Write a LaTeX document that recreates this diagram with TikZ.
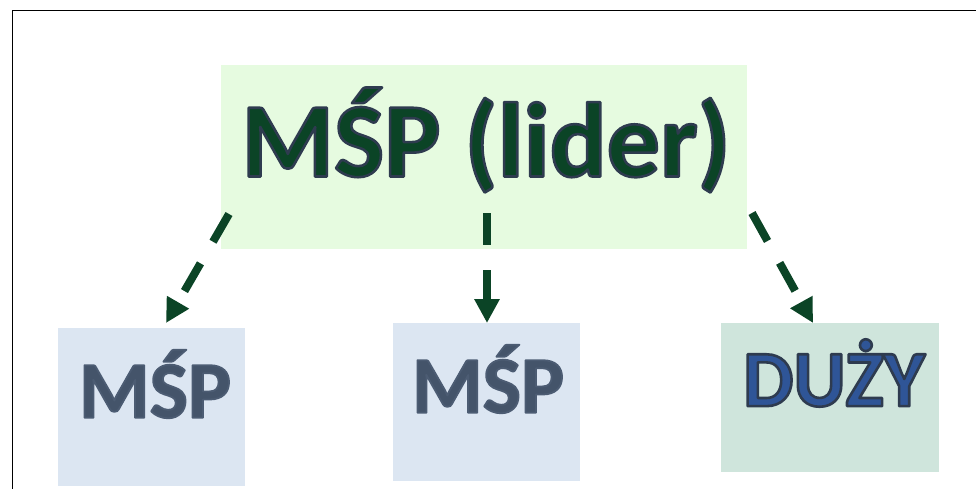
\documentclass[tikz,border=0pt]{standalone}
\usepackage{fontspec}
\setmainfont{Carlito}
\usetikzlibrary{arrows.meta}
\definecolor{topfill}{HTML}{E6FBE0}
\definecolor{smefill}{HTML}{DCE6F2}
\definecolor{bigfill}{HTML}{CFE5DC}
\definecolor{darkgreen}{HTML}{0B4426}
\definecolor{smetext}{HTML}{44546A}
\definecolor{bigtext}{HTML}{2F5597}
\tikzset{
  box/.style={inner sep=0pt, outer sep=0pt},
  conn/.style={darkgreen, line width=8pt, dash pattern=on 32pt off 25pt,
    -{Triangle[length=24pt,width=24pt]}},
  bigfont/.style={font=\fontsize{#1}{#1}\selectfont\bfseries, inner sep=0pt},
}
\newcommand{\stroked}[1]{\special{pdf:code 2 Tr 2.6 w 0.18 0.23 0.31 RG 1 j}#1\special{pdf:code 0 Tr}}
\newcommand{\glowed}[1]{\special{pdf:code 2 Tr 1.8 w 0.30 0.36 0.45 RG 1 j}#1\special{pdf:code 0 Tr}}
\begin{document}
\begin{tikzpicture}[x=1pt,y=-1pt]
\useasboundingbox (0,0) rectangle (976,488);
\draw[black, line width=1.6pt] (12.5,10.5) rectangle (1000,520);
% boxes
\node[box, fill=topfill, minimum width=526pt, minimum height=184pt, anchor=north west] (top) at (221,65) {};
\node[box, fill=smefill, minimum width=187pt, minimum height=158pt, anchor=north west] (sme1) at (58,328) {};
\node[box, fill=smefill, minimum width=187pt, minimum height=158pt, anchor=north west] (sme2) at (393,323) {};
\node[box, fill=bigfill, minimum width=218pt, minimum height=149pt, anchor=north west] (big) at (721,323) {};
% texts
\node[darkgreen, bigfont=106] (toptext) at (486,140) {\stroked{MŚP (lider)}};
\node[smetext, bigfont=81] (t1) at (155,384) {\glowed{MŚP}};
\node[smetext, bigfont=81] (t2) at (488,379) {\glowed{MŚP}};
\node[bigtext, bigfont=80] (bigt) at (834,373) {\stroked{DUŻY}};
% connectors
\coordinate (s1) at (229,214);
\coordinate (s2) at (487,213);
\coordinate (s3) at (752,213);
\coordinate (e1) at (166,323);
\coordinate (e2) at (487,323);
\coordinate (e3) at (813,323);
\draw[conn] (s1) -- (e1);
\draw[conn] (s2) -- (e2);
\draw[conn] (s3) -- (e3);
\end{tikzpicture}
\end{document}
